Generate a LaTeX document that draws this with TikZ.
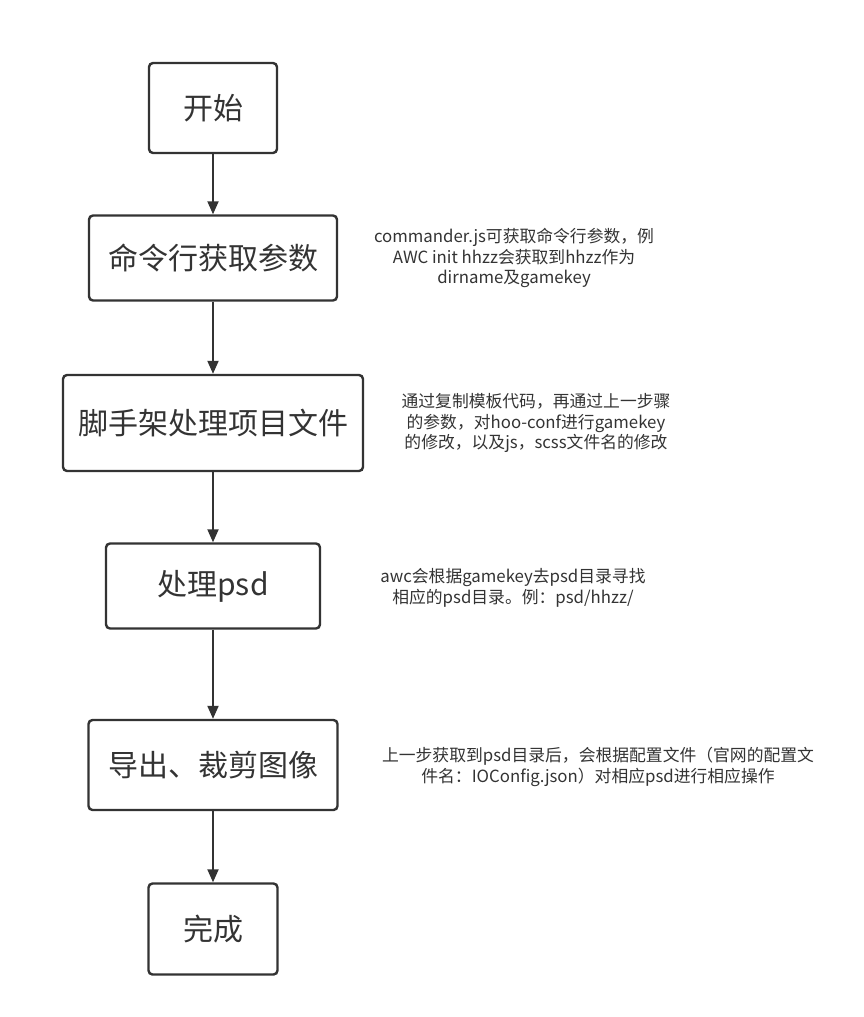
\documentclass[tikz,border=0pt]{standalone}
\usepackage{fontspec}
\setmainfont{Noto Sans CJK SC}
\usetikzlibrary{arrows.meta}
\definecolor{ink}{HTML}{333333}
\tikzset{
  box/.style={draw=ink, line width=2.4pt, rounded corners=4pt, text=ink,
    font=\fontsize{30}{36}\selectfont, inner sep=0pt},
  note/.style={text=ink, align=center, font=\fontsize{16.8}{20.5}\selectfont, inner sep=0pt},
  flow/.style={draw=ink, line width=2pt, -{Triangle[length=13pt,width=11pt]}},
}
\begin{document}
\begin{tikzpicture}[x=1pt,y=-1pt]
  \useasboundingbox (0,0) rectangle (863,1017);
  % steps
  \node[box, minimum width=128pt, minimum height=90pt] (start) at (213,108) {开始};
  \node[box, minimum width=248pt, minimum height=85pt] (args) at (213,258) {命令行获取参数};
  \node[box, minimum width=300pt, minimum height=96pt] (scaffold) at (213,423) {脚手架处理项目文件};
  \node[box, minimum width=214pt, minimum height=85pt] (psd) at (213,586) {处理psd};
  \node[box, minimum width=249pt, minimum height=90pt] (export) at (213,765) {导出、裁剪图像};
  \node[box, minimum width=129pt, minimum height=91pt] (done) at (213,929) {完成};
  % notes
  \node[note] (argsnote) at (514,258) {commander.js可获取命令行参数，例\\AWC init hhzz会获取到hhzz作为\\dirname及gamekey};
  \node[note] (scaffoldnote) at (536,423) {通过复制模板代码，再通过上一步骤\\的参数，对hoo-conf进行gamekey\\的修改，以及js，scss文件名的修改};
  \node[note] (psdnote) at (513,588) {awc会根据gamekey去psd目录寻找\\相应的psd目录。例：psd/hhzz/};
  \node[note] (exportnote) at (598,767) {上一步获取到psd目录后，会根据配置文件（官网的配置文\\件名：IOConfig.json）对相应psd进行相应操作};
  % arrows
  \draw[flow] (start) -- (args);
  \draw[flow] (args) -- (scaffold);
  \draw[flow] (scaffold) -- (psd);
  \draw[flow] (psd) -- (export);
  \draw[flow] (export) -- (done);
\end{tikzpicture}
\end{document}
